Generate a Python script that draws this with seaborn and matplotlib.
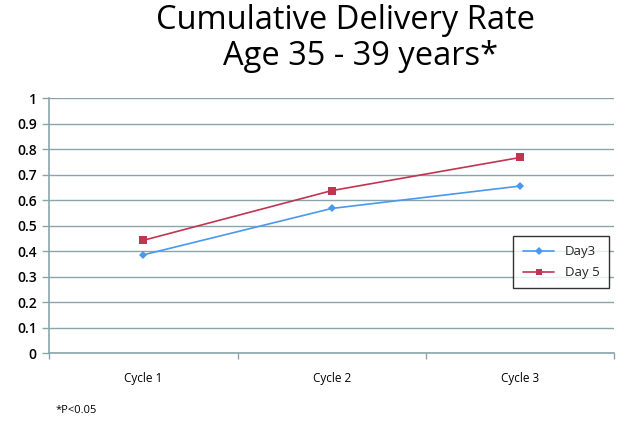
import matplotlib
matplotlib.use("Agg")
import matplotlib.pyplot as plt
import seaborn as sns
import pandas as pd
from matplotlib.ticker import FixedLocator

cycles = ["Cycle 1", "Cycle 2", "Cycle 3"]
day3 = [0.385, 0.567, 0.655]
day5 = [0.442, 0.637, 0.767]
series_names = ["Day3", "Day 5"]
y_ticks = [0, 0.1, 0.2, 0.3, 0.4, 0.5, 0.6, 0.7, 0.8, 0.9, 1]
y_labels = ["0", "0.1", "0.2", "0.3", "0.4", "0.5", "0.6", "0.7", "0.8", "0.9", "1"]

df = pd.DataFrame({
    "cycle": cycles * 2,
    "x": list(range(len(cycles))) * 2,
    "rate": day3 + day5,
    "series": [series_names[0]] * 3 + [series_names[1]] * 3,
})

sns.set_theme(style="white")
plt.rcParams["font.family"] = ["Open Sans", "DejaVu Sans"]

fig = plt.figure(figsize=(6.30, 4.21), dpi=100)
ax = fig.add_axes([0.078, 0.1615, 0.897, 0.6055])

palette = {"Day3": "#4A98EE", "Day 5": "#C03552"}
markers = {"Day3": "D", "Day 5": "s"}
sns.lineplot(data=df, x="x", y="rate", hue="series", style="series",
             palette=palette, markers=markers, dashes=False, ax=ax,
             linewidth=1.2, markersize=5.5, markeredgewidth=0)
for ln in ax.lines:
    if ln.get_marker() == "D":
        ln.set_markersize(4.5)

ax.set_xlim(-0.5, 2.5)
ax.set_ylim(0, 1)
ax.set_yticks(y_ticks)
ax.set_yticklabels(y_labels)
ax.set_xticks(range(len(cycles)))
ax.set_xticklabels(cycles)
ax.xaxis.set_minor_locator(FixedLocator([-0.5, 0.5, 1.5, 2.5]))
ax.tick_params(axis="x", which="major", length=0, pad=14, labelsize=8.5, colors="black")
ax.tick_params(axis="x", which="minor", length=4, color="#8AA4AC", width=1, direction="out", bottom=True)
ax.tick_params(axis="y", length=5, color="#8AA4AC", width=1, direction="out", left=True,
               labelsize=10, colors="black", pad=4)
for lab in ax.get_yticklabels():
    lab.set_fontweight("semibold")
ax.set_xlabel("")
ax.set_ylabel("")
ax.grid(axis="y", color="#8AA4AC", linewidth=1)
ax.set_axisbelow(True)
for s in ["top", "right"]:
    ax.spines[s].set_visible(False)
for s in ["left", "bottom"]:
    ax.spines[s].set_color("#8AA4AC")
    ax.spines[s].set_linewidth(1.2)

leg = ax.legend(loc="upper left", bbox_to_anchor=(0.81, 0.485), frameon=True, fancybox=False,
                edgecolor="black", fontsize=9.5, handlelength=2.4, borderpad=0.7,
                labelspacing=0.6, title=None, markerscale=0.85)
leg.get_frame().set_linewidth(1)

fig.text(0.548, 0.952, "Cumulative Delivery Rate", ha="center", va="center",
         fontsize=23.5, color="black")
fig.text(0.573, 0.866, "Age 35 - 39 years*", ha="center", va="center",
         fontsize=23.5, color="black")
fig.text(0.088, 0.025, "*P<0.05", ha="left", va="center", fontsize=8, color="black")

fig.savefig("out.png", dpi=100)
